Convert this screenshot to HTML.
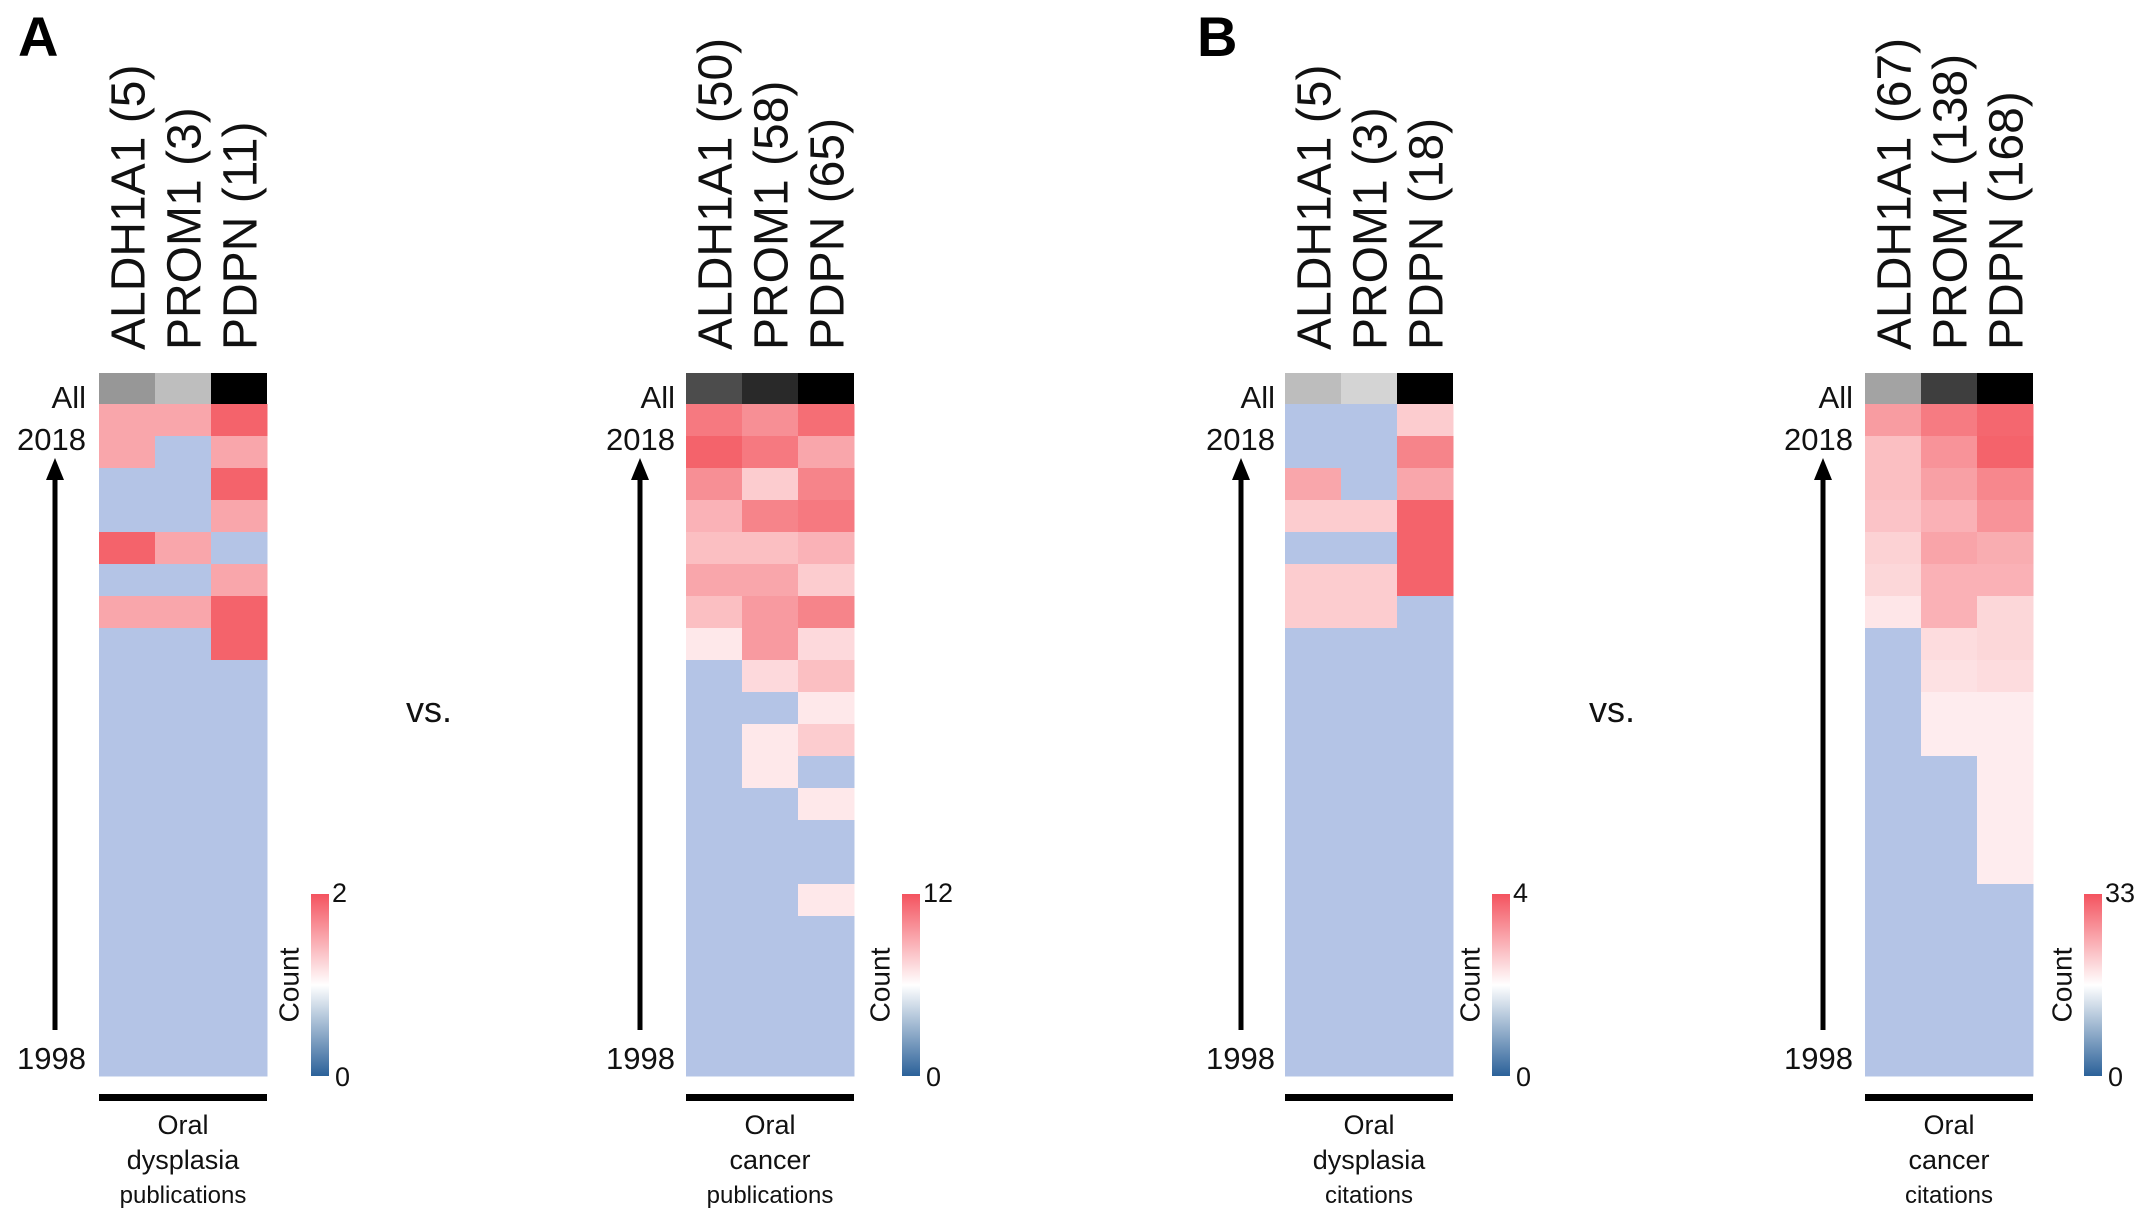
<!DOCTYPE html>
<html><head><meta charset="utf-8"><style>
html,body{margin:0;padding:0;background:#fff;}
svg{display:block;font-family:"Liberation Sans",Arial,sans-serif;}
</style></head><body>
<svg id="chart" width="2150" height="1222" viewBox="0 0 2150 1222" xmlns="http://www.w3.org/2000/svg"></svg>
<script>
const genesA1 = ["ALDH1A1 (5)", "PROM1 (3)", "PDPN (11)"];
const genesA2 = ["ALDH1A1 (50)", "PROM1 (58)", "PDPN (65)"];
const genesB1 = ["ALDH1A1 (5)", "PROM1 (3)", "PDPN (18)"];
const genesB2 = ["ALDH1A1 (67)", "PROM1 (138)", "PDPN (168)"];
// rows: 2018 (top) down to 1998; columns ALDH1A1, PROM1, PDPN
const aldhA1 = [1,1,0,0,2,0,1,0,0,0,0,0,0,0,0,0,0,0,0,0,0];
const promA1 = [1,0,0,0,1,0,1,0,0,0,0,0,0,0,0,0,0,0,0,0,0];
const pdpnA1 = [2,1,2,1,0,1,2,2,0,0,0,0,0,0,0,0,0,0,0,0,0];
const aldhA2 = [10,12,8,5,4,6,4,1,0,0,0,0,0,0,0,0,0,0,0,0,0];
const promA2 = [8,10,3,9,4,6,7,7,2,0,1,1,0,0,0,0,0,0,0,0,0];
const pdpnA2 = [11,6,9,10,5,3,9,2,4,1,3,0,1,0,0,1,0,0,0,0,0];
const aldhB1 = [0,0,2,1,0,1,1,0,0,0,0,0,0,0,0,0,0,0,0,0,0];
const promB1 = [0,0,0,1,0,1,1,0,0,0,0,0,0,0,0,0,0,0,0,0,0];
const pdpnB1 = [1,3,2,4,4,4,0,0,0,0,0,0,0,0,0,0,0,0,0,0,0];
const aldhB2 = [19,11,11,10,7,6,3,0,0,0,0,0,0,0,0,0,0,0,0,0,0];
const promB2 = [27,21,18,14,17,14,14,5,4,2,2,0,0,0,0,0,0,0,0,0,0];
const pdpnB2 = [32,33,24,21,15,14,6,6,5,2,2,2,2,2,2,0,0,0,0,0,0];
const scaleMaxes = [2, 12, 4, 33];
const captionsLine2 = ["dysplasia", "cancer", "dysplasia", "cancer"];
const captionsLine3 = ["publications", "publications", "citations", "citations"];

const NS = "http://www.w3.org/2000/svg";
const svg = document.getElementById("chart");
function mk(tag, attrs, parent) {
  const e = document.createElementNS(NS, tag);
  for (const k in attrs) e.setAttribute(k, attrs[k]);
  (parent || svg).appendChild(e);
  return e;
}
function cellColor(v, max) {
  if (v <= 0) return "#b4c4e6";
  const t = Math.pow(v / max, 0.85);
  const r = Math.round(255 + (244 - 255) * t);
  const g = Math.round(250 + (99 - 250) * t);
  const b = Math.round(251 + (107 - 251) * t);
  return `rgb(${r},${g},${b})`;
}
const panels = [
  {x: 99, genes: genesA1, data: [aldhA1, promA1, pdpnA1], arrowX: 55, labelR: 86, cbX: 311},
  {x: 686, genes: genesA2, data: [aldhA2, promA2, pdpnA2], arrowX: 640, labelR: 675, cbX: 902},
  {x: 1285, genes: genesB1, data: [aldhB1, promB1, pdpnB1], arrowX: 1241, labelR: 1275, cbX: 1492},
  {x: 1865, genes: genesB2, data: [aldhB2, promB2, pdpnB2], arrowX: 1823, labelR: 1853, cbX: 2084}
];
const colW = 56, topY = 373, allH = 31, rowsTop = 404, rowH = 32;
const defs = mk("defs", {});
const grad = mk("linearGradient", {id: "cb", x1: 0, y1: 0, x2: 0, y2: 1}, defs);
mk("stop", {offset: "0", "stop-color": "#f4535f"}, grad);
mk("stop", {offset: "0.5", "stop-color": "#ffffff"}, grad);
mk("stop", {offset: "1", "stop-color": "#2b6199"}, grad);

panels.forEach((p, pi) => {
  const max = scaleMaxes[pi];
  const g = mk("g", {});
  
  
  const sums = p.data.map(a => a.reduce((s, v) => s + v, 0));
  const maxSum = Math.max(...sums);
  p.data.forEach((col, ci) => {
    const cx = p.x + ci * colW;
    const l = Math.round(245 * Math.pow(1 - sums[ci] / maxSum, 0.8));
    const all = mk("rect", {x: cx, y: topY, width: colW, height: allH, fill: `rgb(${l},${l},${l})`}, g);
    
    
    col.forEach((v, ri) => {
      const r = mk("rect", {x: cx, y: rowsTop + ri * rowH, width: colW + 0.5, height: rowH + 0.5, fill: cellColor(v, max)}, g);
      
      
    });
    const t = mk("text", {transform: `translate(${cx + colW / 2 + 2},350) rotate(-90)`, "dominant-baseline": "central", "font-size": 48, fill: "#111"}, g);
    t.textContent = p.genes[ci];
    
    
  });
  const lab = (txt, y, nm) => {
    const t = mk("text", {x: p.labelR, y: y, "text-anchor": "end", "font-size": 31, fill: "#111"}, g);
    t.textContent = txt;
    
    
  };
  lab("All", 408, "all-label");
  lab("2018", 450, "year-top-label");
  lab("1998", 1069, "year-bottom-label");
  const ar = mk("line", {x1: p.arrowX, y1: 1030, x2: p.arrowX, y2: 478, stroke: "#000", "stroke-width": 5}, g);
  
  
  const ah = mk("polygon", {points: `${p.arrowX - 9},480 ${p.arrowX + 9},480 ${p.arrowX},458`, fill: "#000"}, g);
  
  
  const bar = mk("rect", {x: p.x, y: 1094, width: colW * 3, height: 7, fill: "#000"}, g);
  
  
  const cx = p.x + colW * 1.5;
  ["Oral", captionsLine2[pi], captionsLine3[pi]].forEach((s, i) => {
    const t = mk("text", {x: cx, y: [1134, 1169, 1203][i], "text-anchor": "middle", "font-size": i === 2 ? 24 : 27, fill: "#111"}, g);
    t.textContent = s;
    
    
  });
  const cb = mk("rect", {x: p.cbX, y: 894, width: 18, height: 182, fill: "url(#cb)"}, g);
  
  
  const t1 = mk("text", {x: p.cbX + 21, y: 902, "font-size": 27, fill: "#111"}, g);
  t1.textContent = String(max);
  
  
  const t0 = mk("text", {x: p.cbX + 24, y: 1086, "font-size": 27, fill: "#111"}, g);
  t0.textContent = "0";
  
  
  const ct = mk("text", {transform: `translate(${p.cbX - 22},985) rotate(-90)`, "text-anchor": "middle", "dominant-baseline": "central", "font-size": 28, fill: "#111"}, g);
  ct.textContent = "Count";
  
  
});
[[429, "vs."], [1612, "vs."]].forEach(([x, s]) => {
  const t = mk("text", {x: x, y: 722, "text-anchor": "middle", "font-size": 36, fill: "#111"});
  t.textContent = s;
  
  
});
[[18, "A"], [1197, "B"]].forEach(([x, s]) => {
  const t = mk("text", {x: x, y: 56, "font-size": 56, "font-weight": "bold", fill: "#000"});
  t.textContent = s;
  
  
});
</script>
</body></html>
